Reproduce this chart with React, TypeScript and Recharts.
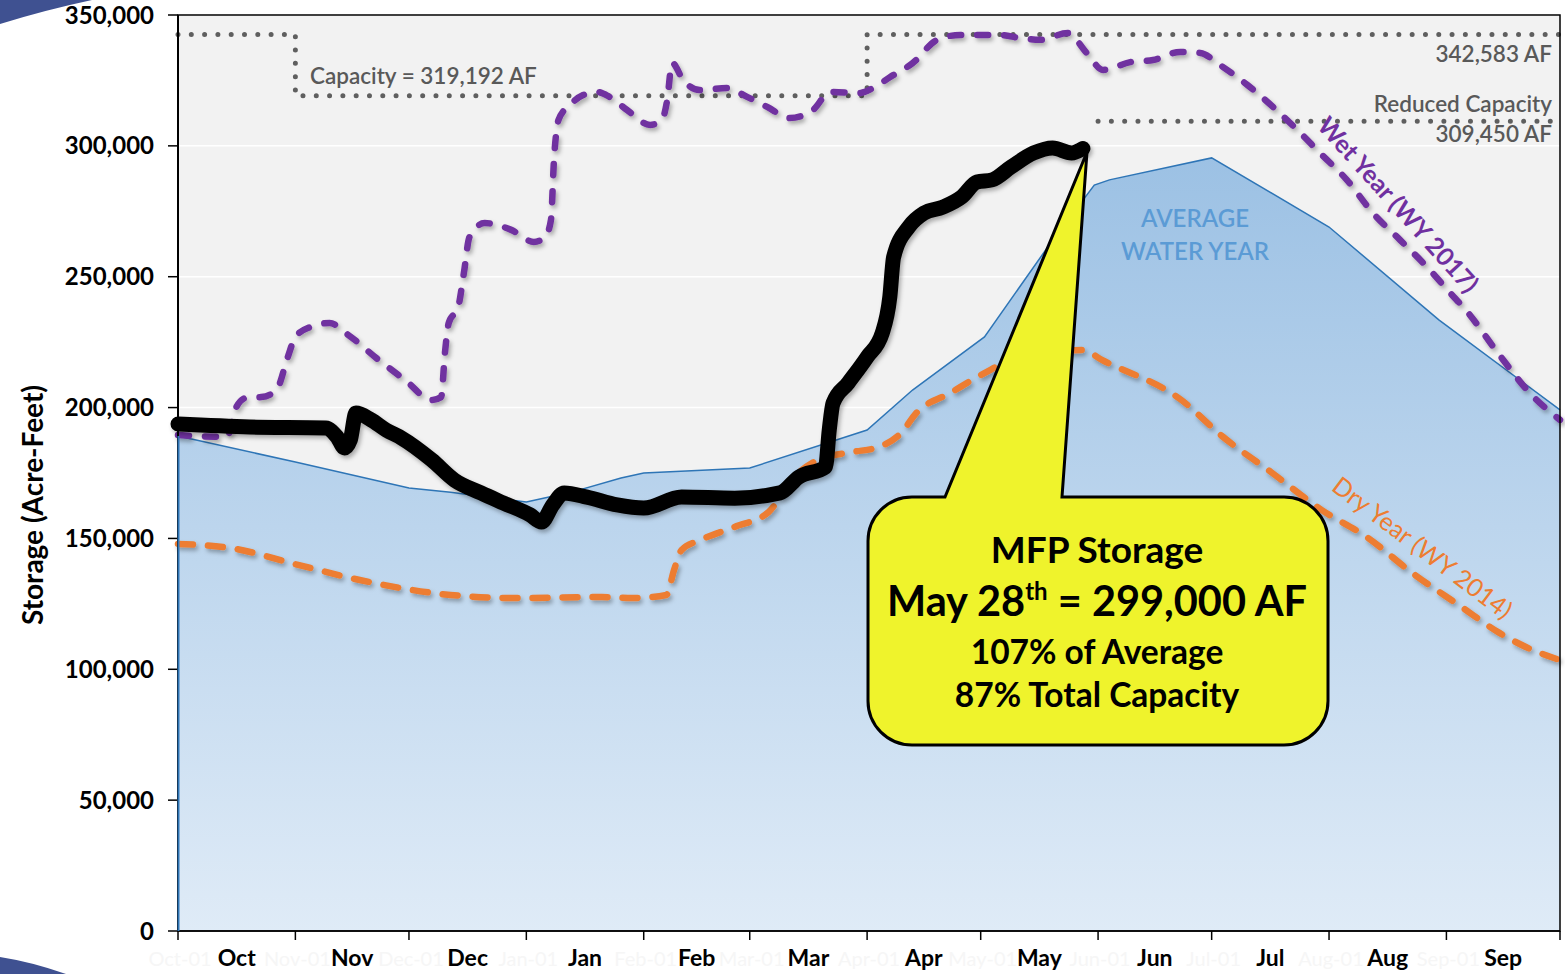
import React from "react";
import {
  ComposedChart,
  Line,
  Area,
  XAxis,
  YAxis,
  CartesianGrid,
} from "recharts";

// ---------- data ----------
const monthStartDays = [0, 31, 61, 92, 123, 151, 182, 212, 243, 273, 304, 335, 365];
const monthNames = ["Oct", "Nov", "Dec", "Jan", "Feb", "Mar", "Apr", "May", "Jun", "Jul", "Aug", "Sep"];
const monthStartLabels = ["Oct-01", "Nov-01", "Dec-01", "Jan-01", "Feb-01", "Mar-01", "Apr-01", "May-01", "Jun-01", "Jul-01", "Aug-01", "Sep-01"];
const yTicks = [0, 50000, 100000, 150000, 200000, 250000, 300000, 350000];

const avgDays = [0, 31, 61, 72, 92, 104, 117, 123, 151, 182, 194, 213, 231, 242, 246, 273, 304, 333, 365];
const avgValues = [189100, 179200, 169300, 167600, 163900, 167700, 173100, 175000, 176900, 191400, 206700, 227000, 264000, 285000, 287000, 295400, 269000, 233500, 199100];

const wetDays = [0, 13, 15, 18, 22, 26, 29, 31, 35, 40, 45, 53, 60, 67, 69.5, 70.5, 71.5, 74, 75.5, 77, 81, 88, 94, 97, 98.5, 99.3, 100.5, 103.5, 107, 110.7, 114, 118.6, 124.7, 127.8, 129.2, 130.5, 133.4, 137.9, 145, 150.3, 155.6, 161.6, 167.7, 172.2, 180.1, 183.6, 188.1, 194.1, 200.5, 206.6, 217, 222.4, 227.7, 235, 240, 244.3, 251.5, 257.5, 264.7, 270, 275.2, 282.4, 289.2, 295.6, 301.6, 308.7, 315.6, 322.8, 329.9, 336, 340, 349, 357, 365];
const wetValues = [189500, 188800, 199000, 203700, 204000, 206700, 219300, 227000, 230800, 232300, 227700, 218200, 210500, 202900, 204000, 220900, 232300, 238400, 251400, 265200, 270500, 267900, 263300, 265200, 271700, 294600, 309900, 315600, 319400, 320600, 318700, 313700, 308000, 309900, 317500, 331700, 325200, 321300, 322100, 318700, 314900, 310600, 313700, 320600, 320200, 322100, 326300, 331700, 340500, 342400, 342400, 341200, 340500, 343100, 335500, 329000, 332000, 332800, 335900, 335500, 330900, 323300, 314900, 306100, 297300, 287000, 274300, 264000, 253700, 243800, 237500, 220100, 205600, 195300];

const dryDays = [0, 14, 32, 48, 72, 90, 112, 120, 129, 131, 133, 138, 147, 156, 162, 169, 178, 185, 191, 195, 204, 213, 222, 230, 239, 244, 265, 276, 289, 302, 314, 326, 339, 349, 356, 365];
const dryValues = [147900, 146300, 139800, 134100, 128400, 127200, 127600, 127200, 128400, 137900, 145600, 149400, 154400, 160100, 172300, 180000, 183000, 184900, 190300, 197900, 205600, 213200, 219300, 220900, 222000, 218200, 202900, 188800, 175000, 160900, 150500, 136800, 123800, 113900, 108500, 103500];

const mfpDays = [0, 19, 39, 42, 44, 45.5, 47, 51, 55, 59, 67, 73, 80, 86, 93, 96, 99, 102, 108, 116, 123, 133, 147, 159, 164, 171, 172, 173, 177, 182, 186, 188, 189, 193, 197, 202, 207, 211, 215, 220, 226, 231, 236, 239];
const mfpValues = [193700, 192600, 192200, 188800, 184600, 187600, 197900, 195300, 191400, 188400, 180000, 172300, 167400, 163500, 159000, 156300, 162800, 167400, 165800, 162800, 161600, 165800, 165400, 167400, 173500, 177300, 191400, 201700, 209400, 219300, 228500, 242300, 257500, 269000, 274300, 276600, 280500, 286200, 287000, 291900, 297300, 299200, 297300, 299000];

const capacityDays = [0, 31, 31, 182, 182, 365];
const capacityValues = [342583, 342583, 319192, 319192, 342583, 342583];
const reducedDays = [243, 365];
const reducedValues = [309450, 309450];

const zip = (ds: number[], vs: number[]) => ds.map((d, i) => ({ d, v: vs[i] }));
const avgData = zip(avgDays, avgValues);
const wetData = zip(wetDays, wetValues);
const dryData = zip(dryDays, dryValues);
const mfpData = zip(mfpDays, mfpValues);
const capData = zip(capacityDays, capacityValues);
const reducedData = zip(reducedDays, reducedValues);

const monthMidDays = monthNames.map((_, i) => (monthStartDays[i] + monthStartDays[i + 1]) / 2);
const xTicks = [...monthStartDays, ...monthMidDays].sort((a, b) => a - b);

const FONT = 'Lato, "Open Sans", "DejaVu Sans", sans-serif';

const XTick = (props: any) => {
  const { x, y, payload } = props;
  const v = payload.value;
  const si = monthStartDays.indexOf(v);
  if (si >= 0) {
    return (
      <g>
        <line x1={x} y1={y} x2={x} y2={y + 9} stroke="#000" strokeWidth={1.5} />
        {si < monthStartLabels.length && (
          <text x={x + 2} y={y + 35} textAnchor="middle" fontFamily={FONT} fontSize={20} fill="#f6f6f6">
            {monthStartLabels[si]}
          </text>
        )}
      </g>
    );
  }
  const mi = monthMidDays.indexOf(v);
  return (
    <text x={x} y={y + 35} textAnchor="middle" fontFamily={FONT} fontSize={23} fontWeight="bold" fill="#000">
      {monthNames[mi]}
    </text>
  );
};

export default function App() {
  const W = 1565;
  const H = 974;
  return (
    <div style={{ position: "absolute", left: 0, top: 0, width: W, height: H, background: "#fff", overflow: "hidden" }}>
      <ComposedChart width={W} height={H} margin={{ top: 15, right: 5, bottom: 0, left: 0 }}>
        <defs>
          <linearGradient id="avgGrad" x1="0" y1="0" x2="0" y2="1">
            <stop offset="0%" stopColor="#9cc1e4" />
            <stop offset="100%" stopColor="#dfebf7" />
          </linearGradient>
          <filter id="shadow" x="-5%" y="-5%" width="110%" height="110%">
            <feDropShadow dx="2" dy="3" stdDeviation="2" floodColor="#000" floodOpacity="0.3" />
          </filter>
        </defs>
        <CartesianGrid vertical={false} stroke="#ffffff" strokeWidth={1.5} fill="#f2f2f2" />
        <XAxis
          dataKey="d"
          type="number"
          domain={[0, 365]}
          ticks={xTicks}
          interval={0}
          height={43}
          tick={<XTick />}
          tickLine={false}
          tickSize={0}
          tickMargin={0}
          axisLine={{ stroke: "#000", strokeWidth: 1.5 }}
          allowDuplicatedCategory={false}
        />
        <YAxis
          type="number"
          domain={[0, 350000]}
          ticks={yTicks}
          width={178}
          tickSize={10}
          tickMargin={14}
          tickFormatter={(v: number) => v.toLocaleString("en-US")}
          tick={{ fontFamily: FONT, fontSize: 24, fontWeight: "bold", fill: "#000" }}
          tickLine={{ stroke: "#000", strokeWidth: 1.5 }}
          axisLine={{ stroke: "#000", strokeWidth: 2 }}
        />
        <Area
          data={avgData}
          dataKey="v"
          type="linear"
          stroke="#2e75b6"
          strokeWidth={1.5}
          fill="url(#avgGrad)"
          fillOpacity={1}
          isAnimationActive={false}
          dot={false}
          activeDot={false}
        />
        <Line
          data={capData}
          dataKey="v"
          type="linear"
          stroke="#5f5f5f"
          strokeWidth={5}
          strokeDasharray="0 13.3"
          strokeLinecap="round"
          dot={false}
          activeDot={false}
          isAnimationActive={false}
        />
        <Line
          data={reducedData}
          dataKey="v"
          type="linear"
          stroke="#5f5f5f"
          strokeWidth={5}
          strokeDasharray="0 13.3"
          strokeLinecap="round"
          dot={false}
          activeDot={false}
          isAnimationActive={false}
        />
        <Line
          data={dryData}
          dataKey="v"
          type="monotone"
          stroke="#ed7d31"
          strokeWidth={6.5}
          strokeDasharray="15 15"
          strokeLinecap="round"
          filter="url(#shadow)"
          dot={false}
          activeDot={false}
          isAnimationActive={false}
        />
        <Line
          data={wetData}
          dataKey="v"
          type="monotone"
          stroke="#7030a0"
          strokeWidth={6.5}
          strokeDasharray="11 16"
          strokeLinecap="round"
          filter="url(#shadow)"
          dot={false}
          activeDot={false}
          isAnimationActive={false}
        />
        <Line
          data={mfpData}
          dataKey="v"
          type="monotone"
          stroke="#000000"
          strokeWidth={15}
          strokeLinecap="round"
          strokeLinejoin="round"
          filter="url(#shadow)"
          dot={false}
          activeDot={false}
          isAnimationActive={false}
        />
      </ComposedChart>

      <svg width={W} height={H} style={{ position: "absolute", left: 0, top: 0, pointerEvents: "none" }}>
        {/* slide decorations */}
        <path d="M0,0 L92,0 Q45,10 0,24 Z" fill="#3f5191" />
        <path d="M0,957 Q32,962 66,974 L0,974 Z" fill="#3f5191" />
        {/* plot border */}
        <rect x={178} y={15} width={1382} height={916} fill="none" stroke="#000" strokeWidth={1.5} />
        <line x1={178.5} y1={436} x2={178.5} y2={931} stroke="#2e75b6" strokeWidth={2} />

        {/* axis title */}
        <text
          x={32}
          y={505}
          transform="rotate(-90 32 505)"
          textAnchor="middle"
          dominantBaseline="central"
          fontFamily={FONT}
          fontSize={28}
          fontWeight="bold"
          fill="#000"
        >
          Storage (Acre-Feet)
        </text>

        {/* capacity labels */}
        <text x={310} y={84} fontFamily={FONT} fontSize={22.5} fontWeight={600} fill="#595959">Capacity = 319,192 AF</text>
        <text x={1552} y={62} textAnchor="end" fontFamily={FONT} fontSize={22.5} fontWeight={600} fill="#595959">342,583 AF</text>
        <text x={1552} y={112} textAnchor="end" fontFamily={FONT} fontSize={22.5} fontWeight={600} fill="#595959">Reduced Capacity</text>
        <text x={1552} y={142} textAnchor="end" fontFamily={FONT} fontSize={22.5} fontWeight={600} fill="#595959">309,450 AF</text>

        {/* average label */}
        <text x={1195} y={227} textAnchor="middle" fontFamily={FONT} fontSize={24} fontWeight={600} fill="#5b9bd5">AVERAGE</text>
        <text x={1195} y={260} textAnchor="middle" fontFamily={FONT} fontSize={24} fontWeight={600} fill="#5b9bd5">WATER YEAR</text>

        {/* series labels */}
        <text
          x={1399}
          y={204}
          transform="rotate(48 1399 204)"
          textAnchor="middle"
          dominantBaseline="central"
          fontFamily={FONT}
          fontSize={25}
          fontWeight="bold"
          fill="#7030a0"
        >
          Wet Year (WY 2017)
        </text>
        <text
          x={1423}
          y={547}
          transform="rotate(37 1423 547)"
          textAnchor="middle"
          dominantBaseline="central"
          fontFamily={FONT}
          fontSize={25}
          fill="#ed7d31"
        >
          Dry Year (WY 2014)
        </text>

        {/* callout */}
        <path
          d="M913,497 L945,497 L1087,152 L1062,497 L1284,497 A44,44 0 0 1 1328,541 L1328,701 A44,44 0 0 1 1284,745 L912,745 A44,44 0 0 1 868,701 L868,541 A44,44 0 0 1 912,497 Z"
          fill="#eff32c"
          stroke="#000"
          strokeWidth={3}
          strokeLinejoin="miter"
        />
        <text x={1097} y={563} textAnchor="middle" fontFamily={FONT} fontSize={37} fontWeight="bold" fill="#000">MFP Storage</text>
        <text x={1097} y={616} textAnchor="middle" fontFamily={FONT} fontSize={41.5} fontWeight="bold" fill="#000">
          May 28<tspan fontSize={24} dy={-16}>th</tspan><tspan dy={16}> = 299,000 AF</tspan>
        </text>
        <text x={1097} y={664} textAnchor="middle" fontFamily={FONT} fontSize={33.5} fontWeight="bold" fill="#000">107% of Average</text>
        <text x={1097} y={707} textAnchor="middle" fontFamily={FONT} fontSize={33.5} fontWeight="bold" fill="#000">87% Total Capacity</text>
      </svg>
    </div>
  );
}
